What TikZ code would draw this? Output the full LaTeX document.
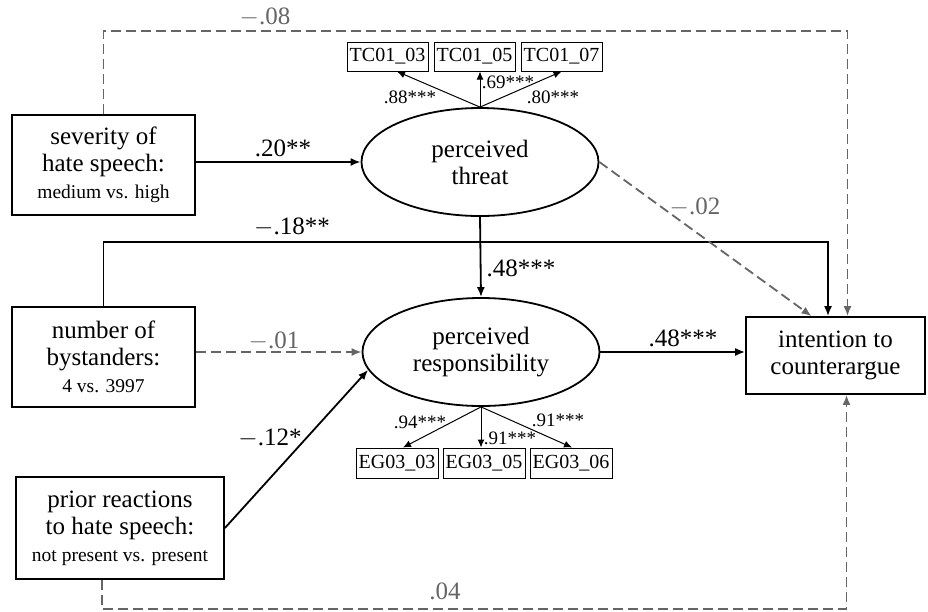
\documentclass[tikz,border=0pt]{standalone}
\usepackage{fontspec}
\setmainfont{Liberation Serif}
\usetikzlibrary{arrows.meta,shapes.geometric,calc}
\definecolor{dgray}{HTML}{656565}
\begin{document}
\begin{tikzpicture}[x=1pt,y=-1pt,
  mainfont/.style={font=\fontsize{25}{27}\selectfont},
  varbox/.style={draw,line width=1.8pt,align=center,inner sep=0pt,mainfont},
  latent/.style={draw,ellipse,line width=1.8pt,minimum width=237pt,minimum height=108pt,align=center,inner sep=0pt,mainfont},
  indbox/.style={draw,line width=1pt,minimum width=81pt,minimum height=29pt,inner sep=0pt,font=\fontsize{20}{22}\selectfont},
  sigpath/.style={line width=1.8pt,-{Latex[length=10pt,width=8pt]}},
  nspath/.style={line width=1.8pt,draw=dgray,dash pattern=on 10pt off 5pt,-{Latex[length=10pt,width=8pt]}},
  loadpath/.style={line width=1pt,-{Latex[length=8pt,width=7pt]}},
  coef/.style={font=\fontsize{25}{27}\selectfont,inner sep=0pt},
  nscoef/.style={coef,text=dgray},
  lcoef/.style={font=\fontsize{19}{21}\selectfont,inner sep=0pt}]
\useasboundingbox (0,0) rectangle (928,611);
\newcommand{\subtxt}[1]{{\fontsize{19.5}{22}\selectfont #1}}

% observed variables
\node[varbox,minimum width=183pt,minimum height=100pt] (sev) at (103.5,165) {severity of\\hate speech:\\\subtxt{medium vs. high}};
\node[varbox,minimum width=183pt,minimum height=100pt] (byst) at (103.5,357) {number of\\bystanders:\\\subtxt{4 vs. 3997}};
\node[varbox,minimum width=208pt,minimum height=102pt] (prior) at (120,528) {prior reactions\\to hate speech:\\\subtxt{not present vs. present}};
\node[varbox,minimum width=179pt,minimum height=77pt] (int) at (835.5,355.5) {intention to\\counterargue};

% latent variables
\node[latent] (thr) at (480,162) {perceived\\threat};
\node[latent] (resp) at (481,352) {perceived\\responsibility};

% indicators
\node[indbox] (t3) at (387.5,56.5) {TC01\_03};
\node[indbox] (t5) at (474.5,56.5) {TC01\_05};
\node[indbox] (t7) at (561.5,56.5) {TC01\_07};
\node[indbox,minimum width=82pt,minimum height=30pt] (e3) at (397,463) {EG03\_03};
\node[indbox,minimum width=82pt,minimum height=30pt] (e5) at (484,463) {EG03\_05};
\node[indbox,minimum width=82pt,minimum height=30pt] (e6) at (571,463) {EG03\_06};

\draw[loadpath] (thr.north) -- ([xshift=9.5pt]t3.south);
\draw[loadpath] (thr.north) -- (thr.north |- t5.south);
\draw[loadpath] (thr.north) -- (t7.south);
\draw[loadpath] (resp.south) -- ([xshift=6pt]e3.north);
\draw[loadpath] (resp.south) -- (resp.south |- e5.north);
\draw[loadpath] (resp.south) -- ([xshift=1pt]e6.north);

\node[lcoef] (l1) at (410,97) {.88***};
\node[lcoef] (l2) at (508,82) {.69***};
\node[lcoef] (l3) at (553,97) {.80***};
\node[lcoef] (l4) at (420,422) {.94***};
\node[lcoef] (l5) at (510,438) {.91***};
\node[lcoef] (l6) at (558,420) {.91***};

% structural paths
\draw[sigpath] (sev.east |- thr.west) -- (thr.west);
\draw[sigpath] (thr.south) -- (resp.north);
\draw[sigpath] (prior.east) -- (resp.189);
\draw[sigpath] (resp.east) -- (resp.east -| int.west);
\draw[sigpath] (byst.north) -- ++(0,-64) -| ([xshift=-7.5pt]int.north);
\draw[nspath] (byst.east |- resp.west) -- (resp.west);
\draw[nspath] (thr.east) -- ([xshift=-24pt]int.north);
\draw[nspath] (sev.north) -- ++(0,-83) -| ([xshift=12pt]int.north);
\draw[nspath] ([xshift=-18pt]prior.south) -- ++(0,29) -| ([xshift=11pt]int.south);

% coefficients
\node[coef] (c1) at (283,148) {.20**};
\node[coef] (c2) at (292,227) {$-$.18**};
\node[coef] (c3) at (521,268) {.48***};
\node[coef] (c4) at (683,338) {.48***};
\node[coef] (c5) at (270,438) {$-$.12*};
\node[nscoef] (c6) at (274,341) {$-$.01};
\node[nscoef] (c7) at (695,207) {$-$.02};
\node[nscoef] (c8) at (265,17) {$-$.08};
\node[nscoef] (c9) at (445,591) {.04};
\end{tikzpicture}
\end{document}
